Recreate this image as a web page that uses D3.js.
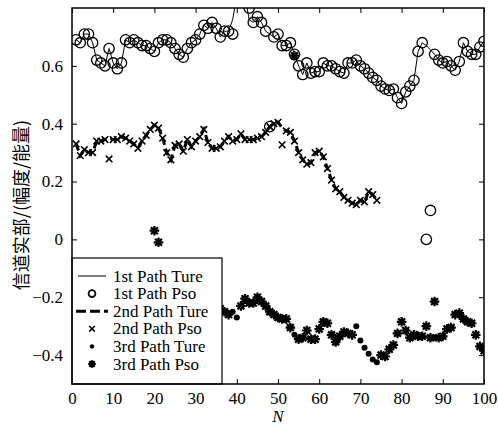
<!DOCTYPE html>
<html>
<head>
<meta charset="utf-8">
<script src="https://cdn.jsdelivr.net/npm/d3@7"></script>
<style>
  body { margin: 0; background: #fff; }
  svg text { font-family: "Liberation Serif", "Times New Roman", serif; }
  .frame { fill: none; stroke: #000; stroke-width: 1.5; }
  .axis path { display: none; }
  .axis line { stroke: #000; stroke-width: 1; }
  .axis text { font-size: 17px; fill: #000; font-family: "Liberation Serif", serif; }
</style>
</head>
<body>
<div id="chart"></div>
<script>
// sample index N
var N = d3.range(1, 101);

// 1st path
var path1Ture = [0.69, 0.68, 0.71, 0.71, 0.68, 0.62, 0.61, 0.60, 0.66, 0.61,
                 0.59, 0.61, 0.69, 0.68, 0.69, 0.68, 0.67, 0.67, 0.66, 0.65,
                 0.68, 0.69, 0.69, 0.68, 0.66, 0.64, 0.63, 0.66, 0.68, 0.69,
                 0.71, 0.74, 0.73, 0.75, 0.73, 0.70, 0.72, 0.72, 0.76, 0.84,
                 0.90, 0.84, 0.76, 0.75, 0.77, 0.75, 0.72, 0.71, 0.70, 0.71,
                 0.67, 0.67, 0.68, 0.64, 0.60, 0.57, 0.61, 0.575, 0.58, 0.58,
                 0.61, 0.60, 0.60, 0.59, 0.58, 0.575, 0.61, 0.61, 0.62, 0.60,
                 0.59, 0.575, 0.56, 0.55, 0.53, 0.52, 0.515, 0.52, 0.49, 0.47,
                 0.51, 0.53, 0.55, 0.65, 0.68, 0.67, 0.655, 0.64, 0.62, 0.61,
                 0.615, 0.60, 0.585, 0.615, 0.68, 0.65, 0.64, 0.64, 0.665, 0.685];
var path1Pso  = [0.69, 0.68, 0.71, 0.71, 0.68, 0.62, 0.61, 0.60, 0.66, 0.61,
                 0.59, 0.61, 0.69, 0.68, 0.69, 0.68, 0.67, 0.67, 0.66, 0.65,
                 0.68, 0.69, 0.69, 0.68, 0.66, 0.64, 0.63, 0.66, 0.68, 0.69,
                 0.71, 0.74, 0.73, 0.75, 0.73, 0.70, 0.72, 0.72, 0.71, 0.84,
                 0.90, 0.84, 0.80, 0.75, 0.77, 0.75, 0.72, 0.39, 0.70, 0.71,
                 0.67, 0.67, 0.68, 0.64, 0.60, 0.57, 0.61, 0.575, 0.58, 0.58,
                 0.61, 0.60, 0.60, 0.59, 0.58, 0.575, 0.61, 0.61, 0.62, 0.60,
                 0.59, 0.575, 0.56, 0.55, 0.53, 0.52, 0.515, 0.52, 0.49, 0.47,
                 0.51, 0.53, 0.55, 0.65, 0.68, 0.00, 0.10, 0.64, 0.62, 0.61,
                 0.615, 0.60, 0.585, 0.615, 0.68, 0.65, 0.64, 0.64, 0.665, 0.685];

// 2nd path (ends at N = 74)
var path2Ture = [0.33, 0.29, 0.31, 0.30, 0.30, 0.34, 0.34, 0.345, 0.35, 0.345,
                 0.345, 0.355, 0.35, 0.34, 0.33, 0.315, 0.34, 0.36, 0.38, 0.395,
                 0.385, 0.35, 0.30, 0.275, 0.325, 0.33, 0.305, 0.345, 0.32, 0.34,
                 0.355, 0.38, 0.335, 0.315, 0.315, 0.32, 0.34, 0.355, 0.34, 0.345,
                 0.365, 0.345, 0.345, 0.345, 0.35, 0.355, 0.37, 0.39, 0.40, 0.405,
                 0.385, 0.375, 0.37, 0.34, 0.30, 0.275, 0.26, 0.265, 0.30, 0.305,
                 0.285, 0.245, 0.205, 0.175, 0.165, 0.145, 0.135, 0.125, 0.12, 0.135,
                 0.13, 0.165, 0.155, 0.135];
var path2Pso  = [0.33, 0.29, 0.31, 0.30, 0.30, 0.34, 0.34, 0.345, 0.278, 0.345,
                 0.345, 0.355, 0.35, 0.34, 0.33, 0.315, 0.34, 0.36, 0.38, 0.395,
                 0.385, 0.35, 0.30, 0.275, 0.325, 0.33, 0.305, 0.345, 0.32, 0.34,
                 0.355, 0.38, 0.335, 0.315, 0.315, 0.32, 0.34, 0.355, 0.34, 0.345,
                 0.365, 0.345, 0.345, 0.345, 0.35, 0.355, 0.37, 0.39, 0.40, 0.405,
                 0.327, 0.375, 0.37, 0.34, 0.30, 0.275, 0.26, 0.265, 0.30, 0.305,
                 0.285, 0.245, 0.205, 0.175, 0.165, 0.145, 0.135, 0.125, 0.12, 0.135,
                 0.13, 0.165, 0.155, 0.135];

// 3rd path
var path3Ture = [-0.26, -0.27, -0.28, -0.27, -0.29, -0.30, -0.31, -0.30, -0.29, -0.28,
                 -0.27, -0.28, -0.29, -0.30, -0.31, -0.32, -0.31, -0.30, -0.29, -0.28,
                 -0.27, -0.26, -0.27, -0.28, -0.29, -0.30, -0.29, -0.28, -0.27, -0.26,
                 -0.25, -0.26, -0.27, -0.26, -0.25, -0.24, -0.25, -0.26, -0.25, -0.27,
                 -0.23, -0.205, -0.22, -0.22, -0.20, -0.215, -0.23, -0.25, -0.26, -0.27,
                 -0.275, -0.275, -0.305, -0.33, -0.345, -0.34, -0.315, -0.345, -0.345, -0.31,
                 -0.285, -0.29, -0.33, -0.355, -0.335, -0.32, -0.325, -0.33, -0.30, -0.35,
                 -0.375, -0.395, -0.415, -0.425, -0.40, -0.405, -0.38, -0.365, -0.325, -0.285,
                 -0.315, -0.34, -0.33, -0.335, -0.335, -0.30, -0.34, -0.34, -0.34, -0.335,
                 -0.31, -0.305, -0.26, -0.255, -0.275, -0.285, -0.29, -0.33, -0.37, -0.385];
var path3Pso  = [-0.26, -0.27, -0.28, -0.27, -0.29, -0.30, -0.31, -0.30, -0.29, -0.28,
                 -0.27, -0.28, -0.29, -0.30, -0.31, -0.32, -0.31, -0.30, -0.29, 0.03,
                 -0.01, -0.26, -0.27, -0.28, -0.29, -0.30, -0.29, -0.28, -0.27, -0.26,
                 -0.25, -0.26, -0.27, -0.26, -0.25, -0.24, -0.25, -0.26, null, null,
                 -0.23, -0.205, -0.22, -0.22, -0.20, -0.215, -0.23, -0.25, -0.26, -0.27,
                 -0.275, -0.275, -0.305, 0.635, -0.345, -0.34, -0.315, -0.345, -0.345, -0.31,
                 -0.285, -0.29, -0.33, -0.355, -0.335, -0.32, -0.325, -0.33, null, null,
                 null, null, null, null, -0.40, -0.405, -0.38, -0.365, -0.325, -0.285,
                 -0.315, -0.34, -0.33, -0.335, -0.335, -0.30, -0.34, -0.215, -0.34, -0.335,
                 -0.31, -0.305, -0.26, -0.255, -0.275, -0.285, -0.29, -0.33, -0.37, -0.385];

var xTicks = [0, 10, 20, 30, 40, 50, 60, 70, 80, 90, 100];
var yTicks = [-0.4, -0.2, 0, 0.2, 0.4, 0.6];
var legendLabels = ["1st Path Ture", "1st Path Pso", "2nd Path Ture",
                    "2nd Path Pso", "3rd Path Ture", "3rd Path Pso"];

drawChart();

function drawChart(){
  var width = 498, height = 427,
      pLeft = 72, pRight = 484, pTop = 8, pBottom = 384;

  var x = d3.scaleLinear().domain([0, 100]).range([pLeft, pRight]);
  var y = d3.scaleLinear().domain([-0.5, 0.8]).range([pBottom, pTop]);

  var svg = d3.select("#chart").append("svg")
      .attr("width", width)
      .attr("height", height);

  svg.append("defs").append("clipPath")
      .attr("id", "plot-clip")
    .append("rect")
      .attr("x", pLeft)
      .attr("y", pTop)
      .attr("width", pRight - pLeft)
      .attr("height", pBottom - pTop);

  function pairs(values) {
    return values.map(function(v, i) { return {n: N[i], v: v}; })
                 .filter(function(d) { return d.v !== null; });
  }

  var plot = svg.append("g").attr("clip-path", "url(#plot-clip)");

  var line = d3.line()
      .x(function(d) { return x(d.n); })
      .y(function(d) { return y(d.v); });

  // 1st path
  plot.append("path")
      .datum(pairs(path1Ture))
      .attr("d", line)
      .attr("fill", "none")
      .attr("stroke", "#000")
      .attr("stroke-width", 1);

  plot.append("g").selectAll("circle")
      .data(pairs(path1Pso))
    .enter().append("circle")
      .attr("cx", function(d) { return x(d.n); })
      .attr("cy", function(d) { return y(d.v); })
      .attr("r", 5.2)
      .attr("fill", "none")
      .attr("stroke", "#000")
      .attr("stroke-width", 1.3);

  // 2nd path
  plot.append("path")
      .datum(pairs(path2Ture))
      .attr("d", line)
      .attr("fill", "none")
      .attr("stroke", "#000")
      .attr("stroke-width", 3)
      .attr("stroke-dasharray", "7,4");

  plot.append("g").selectAll("path")
      .data(pairs(path2Pso))
    .enter().append("path")
      .attr("transform", function(d) { return "translate(" + x(d.n) + "," + y(d.v) + ")"; })
      .attr("d", crossPath(3.3))
      .attr("stroke", "#000")
      .attr("stroke-width", 1.6);

  // 3rd path
  plot.append("g").selectAll("circle")
      .data(pairs(path3Ture))
    .enter().append("circle")
      .attr("cx", function(d) { return x(d.n); })
      .attr("cy", function(d) { return y(d.v); })
      .attr("r", 3)
      .attr("fill", "#000");

  plot.append("g").selectAll("path")
      .data(pairs(path3Pso))
    .enter().append("path")
      .attr("transform", function(d) { return "translate(" + x(d.n) + "," + y(d.v) + ")"; })
      .attr("d", starPath(4.8))
      .attr("stroke", "#000")
      .attr("stroke-width", 2.2);

  // axes, ticks inward on all four sides
  svg.append("g")
      .attr("class", "axis")
      .attr("transform", "translate(0," + pBottom + ")")
      .call(d3.axisBottom(x).tickValues(xTicks).tickSize(-5).tickPadding(8));

  svg.append("g")
      .attr("class", "axis")
      .attr("transform", "translate(0," + pTop + ")")
      .call(d3.axisTop(x).tickValues(xTicks).tickSize(-5).tickFormat(""));

  svg.append("g")
      .attr("class", "axis")
      .attr("transform", "translate(" + pLeft + ",0)")
      .call(d3.axisLeft(y).tickValues(yTicks).tickSize(-5).tickPadding(9)
        .tickFormat(function(d) { return d === 0 ? "0" : d3.format(".1f")(d).replace("-", "\u2212"); }));

  svg.append("g")
      .attr("class", "axis")
      .attr("transform", "translate(" + pRight + ",0)")
      .call(d3.axisRight(y).tickValues(yTicks).tickSize(-5).tickFormat(""));

  // legend
  var legend = svg.append("g");
  legend.append("rect")
      .attr("x", pLeft)
      .attr("y", 258)
      .attr("width", 150)
      .attr("height", pBottom - 258)
      .attr("fill", "#fff")
      .attr("stroke", "#000")
      .attr("stroke-width", 1.2);

  var rows = legend.selectAll("g.row")
      .data(legendLabels)
    .enter().append("g")
      .attr("class", "row")
      .attr("transform", function(d, i) { return "translate(0," + (276 + i * 17.6) + ")"; });

  rows.append("text")
      .attr("x", 113)
      .attr("y", 5.5)
      .attr("font-size", 17)
      .text(function(d) { return d; });

  rows.each(function(d, i) {
    var r = d3.select(this);
    if (i === 0) {
      r.append("line").attr("x1", 78).attr("x2", 106)
          .attr("stroke", "#000").attr("stroke-width", 1);
    } else if (i === 1) {
      r.append("circle").attr("cx", 92).attr("r", 3.4)
          .attr("fill", "none").attr("stroke", "#000").attr("stroke-width", 1.8);
    } else if (i === 2) {
      r.append("line").attr("x1", 76).attr("x2", 108)
          .attr("stroke", "#000").attr("stroke-width", 3)
          .attr("stroke-dasharray", "10,4");
    } else if (i === 3) {
      r.append("path").attr("transform", "translate(92,0)").attr("d", crossPath(2.8))
          .attr("stroke", "#000").attr("stroke-width", 1.6);
    } else if (i === 4) {
      r.append("circle").attr("cx", 92).attr("r", 2.2).attr("fill", "#000");
    } else {
      r.append("path").attr("transform", "translate(92,0)").attr("d", starPath(3.8))
          .attr("stroke", "#000").attr("stroke-width", 2.2);
    }
  });

  // frame
  svg.append("rect")
      .attr("class", "frame")
      .attr("x", pLeft)
      .attr("y", pTop)
      .attr("width", pRight - pLeft)
      .attr("height", pBottom - pTop);

  // axis titles
  svg.append("text")
      .attr("x", (pLeft + pRight) / 2)
      .attr("y", 422)
      .attr("text-anchor", "middle")
      .attr("font-size", 17)
      .attr("font-style", "italic")
      .text("N");

  svg.append("text")
      .attr("transform", "translate(28,205) rotate(-90)")
      .attr("text-anchor", "middle")
      .attr("font-size", 18)
      .style("font-family", "'Noto Sans CJK SC', sans-serif")
      .text("信道实部/(幅度/能量)");
}

// marker paths
function crossPath(s) {
  return "M" + (-s) + "," + (-s) + "L" + s + "," + s +
         "M" + (-s) + "," + s + "L" + s + "," + (-s);
}
function starPath(s) {
  var k = s * 0.72;
  return "M" + (-s) + ",0H" + s + "M0," + (-s) + "V" + s +
         "M" + (-k) + "," + (-k) + "L" + k + "," + k +
         "M" + (-k) + "," + k + "L" + k + "," + (-k);
}
</script>
</body>
</html>
